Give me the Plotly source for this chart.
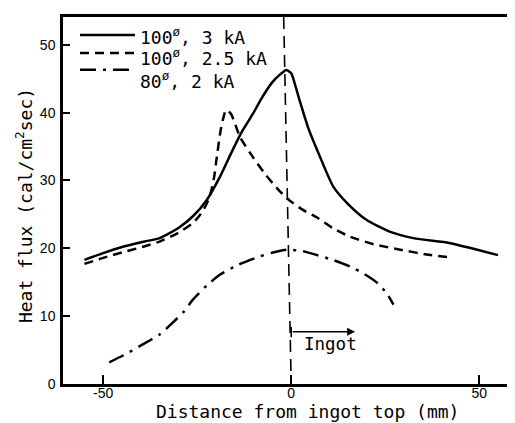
import plotly.graph_objects as go

# Series 1: 100ø, 3 kA (solid)
x_3ka = [-55, -50, -45, -39, -35, -30, -26, -22.5, -19, -16, -13, -10, -8, -5, -3, -1.3, 0, 1.2, 2.4, 4.5, 6.9, 11.2, 15, 20, 26, 32.5, 42, 48, 55]
y_3ka = [18.3, 19.3, 20.2, 21.0, 21.5, 23.0, 24.8, 27.1, 30.5, 34.0, 37.3, 40.0, 42.0, 44.5, 45.6, 46.3, 45.8, 43.8, 41.5, 37.8, 34.5, 29.1, 26.6, 24.2, 22.5, 21.5, 20.8, 20.0, 19.0]

# Series 2: 100ø, 2.5 kA (dashed)
x_25ka = [-55, -50, -45, -39.6, -35, -30, -26.2, -23.5, -21.7, -20.5, -19.9, -18.6, -17.3, -16, -13.6, -10, -7, -4, -1, 3, 7, 11, 15.7, 22, 29, 36, 43]
y_25ka = [17.7, 18.6, 19.4, 20.2, 21.0, 22.3, 23.7, 25.5, 27.6, 30.5, 33.0, 37.9, 40.4, 39.8, 36.4, 33.3, 31.0, 29.0, 27.3, 25.7, 24.5, 23.0, 21.7, 20.6, 19.8, 19.1, 18.6]

# Series 3: 80ø, 2 kA (dash-dot)
x_2ka = [-48.4, -44, -39.6, -35, -31.6, -28.5, -26.2, -22.5, -19, -14, -8.4, -4, -0.8, 3, 6.9, 11, 15.7, 19.5, 22.9, 25.5, 27.2]
y_2ka = [3.2, 4.4, 5.8, 7.3, 9.0, 10.7, 12.4, 14.5, 16.1, 17.6, 18.8, 19.5, 19.8, 19.6, 19.0, 18.3, 17.3, 16.2, 14.9, 13.3, 11.7]

series_names = ["100<sup>ø</sup>, 3 kA", "100<sup>ø</sup>, 2.5 kA", "80<sup>ø</sup>, 2 kA"]
x_ticks = [-50, 0, 50]
y_ticks = [0, 10, 20, 30, 40, 50]

MONO = "DejaVu Sans Mono"
SANS = "Liberation Sans"
dashes = ["solid", "9px,6px", "16px,7px,3px,7px"]

fig = go.Figure()
for xs, ys, nm, d in zip([x_3ka, x_25ka, x_2ka], [y_3ka, y_25ka, y_2ka], series_names, dashes):
    fig.add_trace(go.Scatter(x=xs, y=ys, mode="lines", name=nm, showlegend=False,
                             line=dict(color="black", width=2.5, dash=d, shape="spline", smoothing=0.6)))

# manual legend (paper coordinates)
leg_line_y = [0.951, 0.902, 0.856]
leg_text_y = [0.949, 0.892, 0.829]
for nm, d, ly, ty in zip(series_names, dashes, leg_line_y, leg_text_y):
    fig.add_shape(type="line", xref="paper", yref="paper", x0=0.038, x1=0.161, y0=ly, y1=ly,
                  line=dict(color="black", width=2.5, dash=d))
    fig.add_annotation(xref="paper", yref="paper", x=0.168, y=ty, text=nm, showarrow=False,
                       xanchor="left", yanchor="middle", font=dict(family=MONO, size=18, color="black"))

# vertical dashed line at ingot top
fig.add_shape(type="line", x0=-2, y0=54.1, x1=0, y1=0, xref="x", yref="y",
              line=dict(color="black", width=1.6, dash="12px,7px"))
# ingot arrow
fig.add_annotation(x=17, y=7.7, ax=0, ay=7.7, xref="x", yref="y", axref="x", ayref="y",
                   text="", showarrow=True, arrowhead=2, arrowsize=1, arrowwidth=1.6, arrowcolor="black")
fig.add_shape(type="line", x0=0, y0=6.9, x1=0, y1=8.4, xref="x", yref="y",
              line=dict(color="black", width=1.6))
fig.add_annotation(x=3, y=5.9, xref="x", yref="y", text="Ingot", showarrow=False,
                   xanchor="left", yanchor="middle", font=dict(family=MONO, size=17.5, color="black"))

# axis titles
fig.add_annotation(xref="paper", yref="paper", x=0.548, y=-0.074, text="Distance from ingot top (mm)",
                   showarrow=False, xanchor="center", yanchor="middle",
                   font=dict(family=MONO, size=18, color="black"))
fig.add_annotation(xref="paper", yref="paper", x=-0.087, y=0.485, text="Heat flux (cal/cm<sup>2</sup>sec)",
                   showarrow=False, xanchor="center", yanchor="middle", textangle=-90,
                   font=dict(family=MONO, size=18, color="black"))

# page body has an 8px default margin, so the figure is 8px smaller and margins offset
fig.update_layout(
    width=507, height=415,
    margin=dict(l=55, r=5, t=9, b=39),
    paper_bgcolor="white", plot_bgcolor="white",
    showlegend=False,
    xaxis=dict(range=[-60.7, 58.2], tickvals=x_ticks, ticktext=[str(v) for v in x_ticks],
               ticks="inside", ticklen=9, tickwidth=1.5, tickcolor="black",
               showline=True, linecolor="black", linewidth=2.5, mirror=True,
               showgrid=False, zeroline=False, automargin=False, ticklabelstandoff=-6,
               tickfont=dict(family=SANS, size=14, color="black")),
    yaxis=dict(range=[0, 54.1], tickvals=y_ticks, ticktext=[str(v) for v in y_ticks],
               ticks="inside", ticklen=7, tickwidth=1.5, tickcolor="black",
               showline=True, linecolor="black", linewidth=2.5, mirror=True,
               showgrid=False, zeroline=False, automargin=False, ticklabelstandoff=2,
               tickfont=dict(family=SANS, size=14, color="black")),
)

fig.write_html("out.html")
